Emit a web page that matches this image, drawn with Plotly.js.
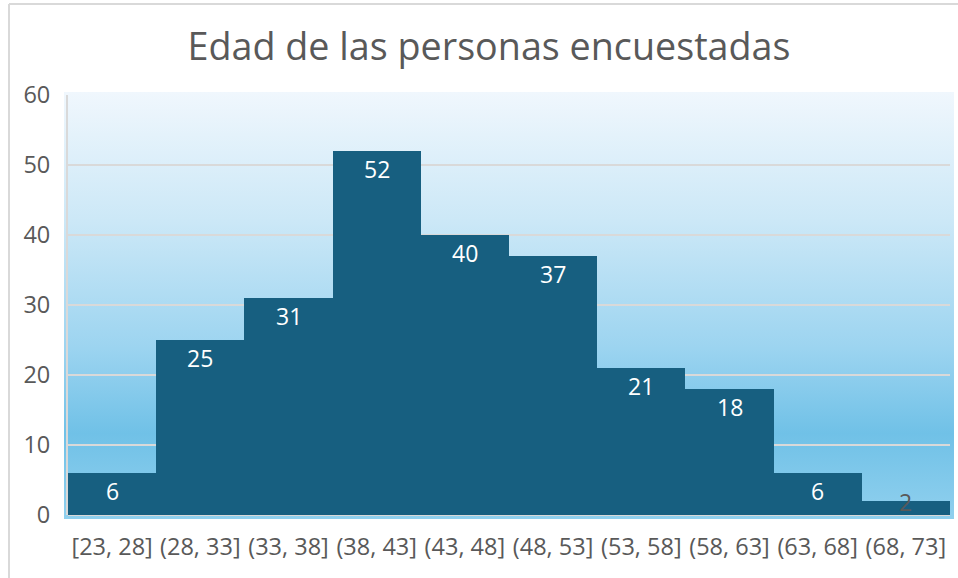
<!DOCTYPE html>
<html>
<head>
<meta charset="utf-8">
<script src="https://cdn.plot.ly/plotly-3.0.1.min.js"></script>
<style>html,body{margin:0;padding:0;background:#fff;}#chart{width:958px;height:578px;}</style>
</head>
<body>
<div id="chart"></div>
<script>
const categories = ["[23, 28]", "(28, 33]", "(33, 38]", "(38, 43]", "(43, 48]", "(48, 53]", "(53, 58]", "(58, 63]", "(63, 68]", "(68, 73]"];
const counts = [6, 25, 31, 52, 40, 37, 21, 18, 6, 2];
const yTicks = [0, 10, 20, 30, 40, 50, 60];
const chartTitle = "Edad de las personas encuestadas";

const W = 958, H = 578;
const L = 68, R = 8, T = 95, B = 63;
const pw = W - L - R, ph = H - T - B;
const px = v => (v - L) / pw;
const py = v => (H - B - v) / ph;

const gradSvg = '<svg xmlns="http://www.w3.org/2000/svg" width="100" height="100" preserveAspectRatio="none">' +
  '<defs><linearGradient id="g" x1="0" y1="0" x2="0" y2="1">' +
  '<stop offset="0" stop-color="#F0F7FD"/>' +
  '<stop offset="0.3" stop-color="#CCE8F7"/>' +
  '<stop offset="0.6" stop-color="#9CD4F0"/>' +
  '<stop offset="0.8" stop-color="#70C1E7"/>' +
  '<stop offset="1" stop-color="#90D0EE"/>' +
  '</linearGradient></defs><rect width="100" height="100" fill="url(#g)"/></svg>';
const gradUrl = 'data:image/svg+xml;base64,' + btoa(gradSvg);

const FONT = 'Open Sans, Noto Sans, sans-serif';

const annotations = categories.map((c, i) => {
  const small = counts[i] < 4;
  return {
    x: c, y: counts[i], xref: 'x', yref: 'y',
    text: String(counts[i]), showarrow: false,
    yanchor: small ? 'middle' : 'top',
    yshift: small ? -1 : 0,
    font: {family: FONT, size: 23, color: small ? '#595959' : '#FFFFFF'}
  };
});

const trace = {
  type: 'bar',
  x: categories,
  y: counts,
  marker: {color: '#175F80', line: {width: 0}},
  hoverinfo: 'x+y'
};

const layout = {
  width: W, height: H,
  margin: {l: L, r: R, t: T, b: B, pad: 0},
  paper_bgcolor: '#FFFFFF',
  plot_bgcolor: 'rgba(0,0,0,0)',
  bargap: 0,
  showlegend: false,
  font: {family: FONT, color: '#595959', size: 24},
  title: {
    text: chartTitle,
    x: 489 / W, xref: 'container', xanchor: 'center',
    y: 1 - 47 / H, yref: 'container', yanchor: 'middle',
    font: {family: FONT, size: 37.7, color: '#595959'}
  },
  xaxis: {
    type: 'category',
    showgrid: false,
    showline: false,
    zeroline: false,
    ticks: 'outside', ticklen: 11, tickcolor: 'rgba(0,0,0,0)',
    tickfont: {size: 23.5, color: '#595959'},
    fixedrange: true
  },
  yaxis: {
    range: [0, 60],
    tickvals: yTicks,
    showgrid: true, gridcolor: '#D9D9D9', gridwidth: 2,
    zeroline: true, zerolinecolor: '#D9D9D9', zerolinewidth: 2,
    showline: true, linecolor: '#D9D9D9', linewidth: 2,
    ticks: 'outside', ticklen: 11, tickcolor: 'rgba(0,0,0,0)',
    tickfont: {size: 23.5, color: '#595959'},
    fixedrange: true
  },
  images: [{
    source: gradUrl, xref: 'paper', yref: 'paper',
    x: px(64), y: py(92), sizex: px(954) - px(64), sizey: py(92) - py(519),
    xanchor: 'left', yanchor: 'top', sizing: 'stretch', layer: 'below'
  }],
  shapes: [
    {type: 'line', xref: 'paper', yref: 'paper', x0: px(9), x1: px(9), y0: py(4), y1: py(600),
     line: {color: '#D9D9D9', width: 2}},
    {type: 'line', xref: 'paper', yref: 'paper', x0: px(9), x1: px(970), y0: py(4), y1: py(4),
     line: {color: '#D9D9D9', width: 2}}
  ],
  annotations: annotations
};

Plotly.newPlot('chart', [trace], layout, {displayModeBar: false, staticPlot: true});
</script>
</body>
</html>
